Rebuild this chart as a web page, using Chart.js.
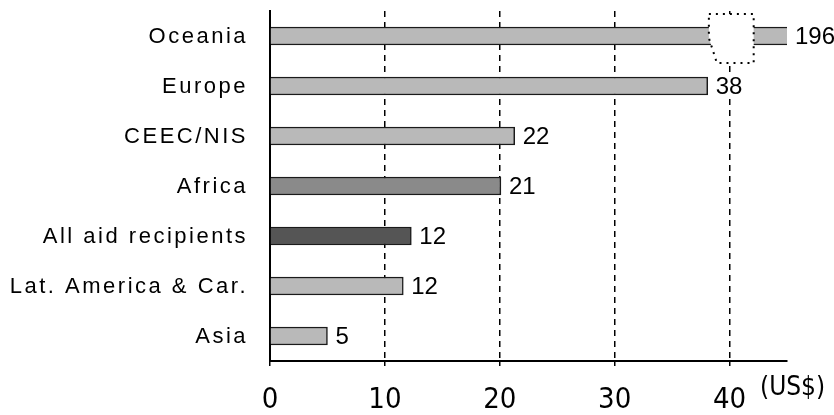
<!DOCTYPE html>
<html>
<head>
<meta charset="utf-8">
<script src="https://cdn.jsdelivr.net/npm/chart.js@4/dist/chart.umd.min.js"></script>
<style>
  html, body { margin: 0; padding: 0; background: #fff; }
  #wrap { width: 834px; height: 415px; }
</style>
</head>
<body>
<div id="wrap"><canvas id="chart" width="834" height="415"></canvas></div>
<script>
// regions, top to bottom
const regions = ['Oceania', 'Europe', 'CEEC/NIS', 'Africa', 'All aid recipients', 'Lat. America & Car.', 'Asia'];
// bar lengths as drawn (US$)
const barValues = [196, 38.1, 21.3, 20.1, 12.3, 11.6, 5.0];
// printed value labels
const valueLabels = ['196', '38', '22', '21', '12', '12', '5'];
const barColors = ['#b9b9b9', '#b9b9b9', '#b9b9b9', '#8a8a8a', '#555555', '#b9b9b9', '#b9b9b9'];
const xTicks = [0, 10, 20, 30, 40];
const xMax = 45;
// axis break drawn on the Oceania bar
const breakFrom = 38.2;
const breakTo = 42.1;

// category labels (spaced out), value labels, broken bar, unit text
const extrasPlugin = {
    id: 'extras',
    afterDatasetsDraw(chart) {
        const ctx = chart.ctx;
        const xs = chart.scales.x;
        const ys = chart.scales.y;
        const meta = chart.getDatasetMeta(0);
        ctx.save();

        // break on the first bar
        const bar0 = meta.data[0];
        const x1 = xs.getPixelForValue(breakFrom);
        const x2 = xs.getPixelForValue(breakTo);
        const top = bar0.y - 22;
        const bottom = bar0.y + 27;
        ctx.fillStyle = '#fff';
        ctx.beginPath();
        ctx.moveTo(x1, top);
        ctx.lineTo(x2, top);
        ctx.lineTo(x2, bottom);
        ctx.lineTo(x1 + 8, bottom);
        ctx.lineTo(x1, bar0.y + 2);
        ctx.closePath();
        ctx.fill();
        ctx.strokeStyle = '#000';
        ctx.lineWidth = 2;
        ctx.setLineDash([2, 5]);
        ctx.stroke();
        ctx.setLineDash([]);

        ctx.textBaseline = 'middle';

        // category labels
        ctx.fillStyle = '#000';
        ctx.textAlign = 'right';
        ctx.font = '22px "Liberation Sans", Arial, sans-serif';
        if ('letterSpacing' in ctx) ctx.letterSpacing = '2.5px';
        regions.forEach((name, i) => {
            ctx.fillText(name, xs.left - 22, ys.getPixelForTick(i) + 1);
        });
        if ('letterSpacing' in ctx) ctx.letterSpacing = '0px';

        // value labels, on a white patch so grid lines stop behind them
        ctx.textAlign = 'left';
        ctx.font = '24px "Liberation Sans", Arial, sans-serif';
        meta.data.forEach((bar, i) => {
            const x = Math.min(bar.x, xs.right) + 8;
            const w = ctx.measureText(valueLabels[i]).width;
            ctx.fillStyle = '#fff';
            ctx.fillRect(x - 2, bar.y - 11, w + 4, 24);
            ctx.fillStyle = '#000';
            ctx.fillText(valueLabels[i], x, bar.y + 1);
        });

        // unit
        ctx.font = '26px "Liberation Sans Narrow", "DejaVu Sans Condensed", sans-serif';
        ctx.fillText('(US$)', 760, 388);
        ctx.restore();
    }
};

new Chart(document.getElementById('chart'), {
    type: 'bar',
    data: {
        labels: regions,
        datasets: [{
            data: barValues,
            backgroundColor: barColors,
            borderColor: '#1a1a1a',
            borderWidth: 1.5,
            borderSkipped: 'start',
            barThickness: 18
        }]
    },
    options: {
        indexAxis: 'y',
        responsive: false,
        animation: false,
        layout: { padding: { top: 11, right: 47, bottom: 0, left: 0 } },
        plugins: {
            legend: { display: false },
            tooltip: { enabled: false }
        },
        scales: {
            x: {
                min: 0,
                max: xMax,
                afterBuildTicks: (scale) => {
                    scale.ticks = xTicks.map(v => ({ value: v }));
                },
                afterFit: (scale) => { scale.height = 54; },
                grid: {
                    color: (c) => c.tick && c.tick.value === 0 ? 'rgba(0,0,0,0)' : '#000',
                    lineWidth: 1.5,
                    tickColor: '#000',
                    tickLength: 5,
                    tickBorderDash: []
                },
                border: { display: true, color: '#000', width: 2, dash: [6, 5] },
                ticks: {
                    color: '#000',
                    padding: 17,
                    font: { family: '"Liberation Sans Narrow", "DejaVu Sans Condensed", sans-serif', size: 29 }
                }
            },
            y: {
                afterFit: (scale) => { scale.width = 270; },
                grid: { display: false, drawTicks: false },
                border: { display: true, color: '#000', width: 2 },
                ticks: { display: false }
            }
        }
    },
    plugins: [extrasPlugin]
});
</script>
</body>
</html>
